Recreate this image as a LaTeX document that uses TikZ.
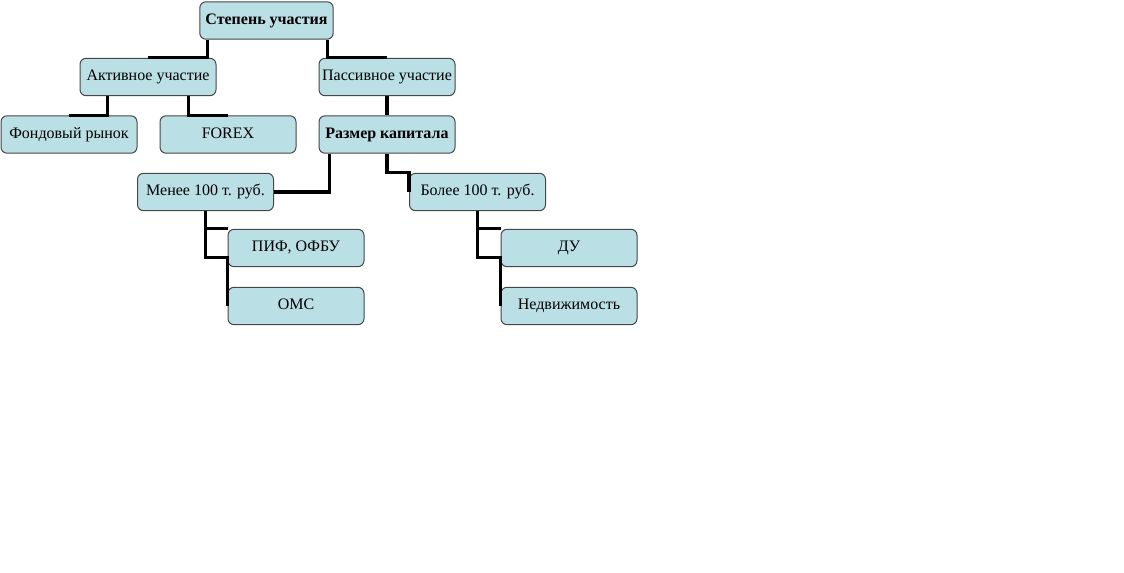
\documentclass[tikz,border=0pt]{standalone}
\usepackage{fontspec}
\setmainfont{Liberation Serif}
\usepackage{tikz}
\usetikzlibrary{calc}

\definecolor{boxfill}{RGB}{186,223,228}
\definecolor{boxline}{RGB}{70,70,70}

\tikzset{
    block/.style={draw=boxline, line width=0.75pt, fill=boxfill, rounded corners=4.5pt,
        minimum width=102pt, minimum height=28pt, inner sep=1pt,
        text height=8pt, text depth=2pt,
        font=\fontsize{12}{14}\selectfont},
    link/.style={line width=2.4pt, black}
}

\begin{document}
\begin{tikzpicture}[x=0.75pt, y=-0.75pt]
            % Fix the size of the picture
            \useasboundingbox (0,0) rectangle (1124,573);

            % Draw the boxes
            \node[block, minimum width=100pt, font=\fontsize{12}{14}\selectfont\bfseries] (top) at (266.5,20.5) {Степень участия};
            \node[block] (act) at (148,77) {Активное участие};
            \node[block] (pas) at (387,77) {Пассивное участие};
            \node[block] (fond) at (69,134.5) {Фондовый рынок};
            \node[block] (forex) at (228,134.5) {FOREX};
            \node[block, font=\fontsize{12}{14}\selectfont\bfseries] (razm) at (387,134.5) {Размер капитала};
            \node[block] (less) at (205.5,192) {Менее 100 т. руб.};
            \node[block] (more) at (477.5,192) {Более 100 т. руб.};
            \node[block] (pif) at (296,248) {ПИФ, ОФБУ};
            \node[block] (oms) at (296,306) {ОМС};
            \node[block] (du) at (569,248) {ДУ};
            \node[block] (ned) at (569,306) {Недвижимость};

            % Draw the connectors
            \draw[link] ($(top.south west)+(8,0)$) |- (act.north);
            \draw[link] ($(top.south east)+(-6,0)$) |- (pas.north);
            \draw[link] ($(act.south west)+(28,0)$) |- (fond.north);
            \draw[link] ($(act.south east)+(-28,0)$) |- (forex.north);
            \draw[link] (pas.south) -- (razm.north);
            \draw[link] ($(razm.south west)+(11,0)$) |- (less.east);
            \draw[link] (razm.south) -- ++(0,19) -| (more.west);

            \draw[link] (less.south) |- (pif.north west);
            \draw[link] (less.south) |- ($(pif.south west)+(0,-10)$) -- (oms.west);
            \draw[link] (more.south) |- (du.north west);
            \draw[link] (more.south) |- ($(du.south west)+(0,-10)$) -- (ned.west);

        \end{tikzpicture}
\end{document}
